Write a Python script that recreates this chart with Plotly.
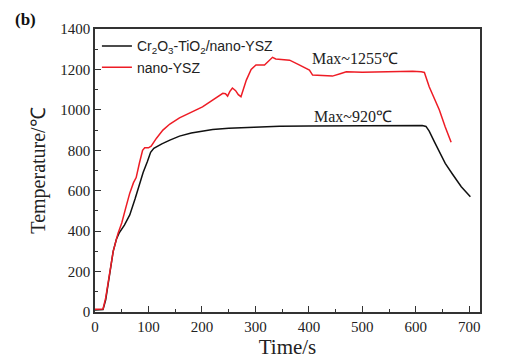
import plotly.graph_objects as go

black_t = [0, 10, 15, 20, 27, 34, 40, 45, 55, 65, 75, 83, 90, 98, 104, 110, 116, 125, 140, 158,
           180, 200, 220, 250, 283, 320, 345, 400, 470, 540, 590, 612, 619, 625, 635, 644, 655,
           669, 685, 702]
black_T = [10, 10, 12, 60, 190, 300, 360, 390, 430, 480, 560, 636, 690, 745, 790, 810, 820, 832,
           850, 870, 885, 895, 903, 909, 913, 917, 919, 920, 920, 921, 922, 922, 918, 895, 840,
           790, 735, 680, 620, 570]

red_t = [0, 10, 15, 20, 27, 34, 43, 50, 58, 65, 72, 77, 83, 89, 93, 100, 105, 115, 127, 140, 158,
         180, 201, 215, 230, 239, 244, 248, 252, 257, 263, 268, 273, 278, 283, 292, 301, 317, 325,
         332, 338, 345, 364, 380, 395, 401, 407, 420, 444, 460, 470, 500, 532, 560, 594, 610, 616,
         625, 635, 644, 655, 666]
red_T = [13, 13, 15, 70, 190, 300, 389, 440, 520, 588, 640, 665, 736, 800, 812, 812, 820, 860,
         900, 930, 960, 990, 1015, 1040, 1065, 1082, 1080, 1068, 1090, 1108, 1095, 1075, 1065,
         1110, 1147, 1200, 1222, 1222, 1240, 1260, 1252, 1250, 1246, 1225, 1205, 1197, 1172,
         1170, 1167, 1180, 1188, 1186, 1188, 1190, 1191, 1188, 1185, 1114, 1055, 999, 915, 840]

series_names = ["Cr<sub>2</sub>O<sub>3</sub>-TiO<sub>2</sub>/nano-YSZ", "nano-YSZ"]
annot_text = ["Max~1255℃", "Max~920℃"]
annot_x = [487, 483]
annot_y = [1255, 968]

serif = "Liberation Serif, Times New Roman, serif"
sans = "Liberation Sans, Arial, sans-serif"

fig = go.Figure()
fig.add_trace(go.Scatter(x=black_t, y=black_T, mode="lines", name=series_names[0],
                         line=dict(color="#111111", width=1.5)))
fig.add_trace(go.Scatter(x=red_t, y=red_T, mode="lines", name=series_names[1],
                         line=dict(color="#ee1c25", width=1.5)))

for txt, ax, ay in zip(annot_text, annot_x, annot_y):
    fig.add_annotation(x=ax, y=ay, text=txt, showarrow=False, xref="x", yref="y",
                       font=dict(family=serif, size=16, color="#222"))

fig.add_annotation(xref="paper", yref="paper", x=-0.213, y=1.074, xanchor="left", yanchor="top",
                   text="<b>(b)</b>", showarrow=False,
                   font=dict(family=serif, size=17, color="#111"))

axis_common = dict(showline=True, linecolor="#333", linewidth=1.5, mirror=True,
                   ticks="inside", ticklen=6, tickwidth=1.2, tickcolor="#333",
                   showgrid=False, zeroline=False, automargin=False,
                   tickfont=dict(family=serif, size=15, color="#222"))

fig.update_xaxes(range=[0, 720], tickmode="linear", tick0=0, dtick=100,
                 minor=dict(ticks="inside", ticklen=3, dtick=50, tickcolor="#333"),
                 title=dict(text="Time/s", font=dict(family=serif, size=21, color="#222"),
                            standoff=0),
                 **axis_common)
fig.update_yaxes(range=[0, 1400], tickmode="linear", tick0=0, dtick=200,
                 minor=dict(ticks="inside", ticklen=3, dtick=100, tickcolor="#333"),
                 title=dict(text="Temperature/℃", font=dict(family=serif, size=20, color="#222"),
                            standoff=9),
                 **axis_common)

fig.update_layout(
    width=499, height=352,
    margin=dict(l=87, r=27, t=21, b=48, autoexpand=False),
    paper_bgcolor="white", plot_bgcolor="white",
    showlegend=True,
    legend=dict(x=0.005, y=0.995, xanchor="left", yanchor="top", bgcolor="rgba(0,0,0,0)",
                font=dict(family=sans, size=14, color="#222"), itemwidth=30,
                tracegroupgap=0),
)

fig.write_html("out.html")
